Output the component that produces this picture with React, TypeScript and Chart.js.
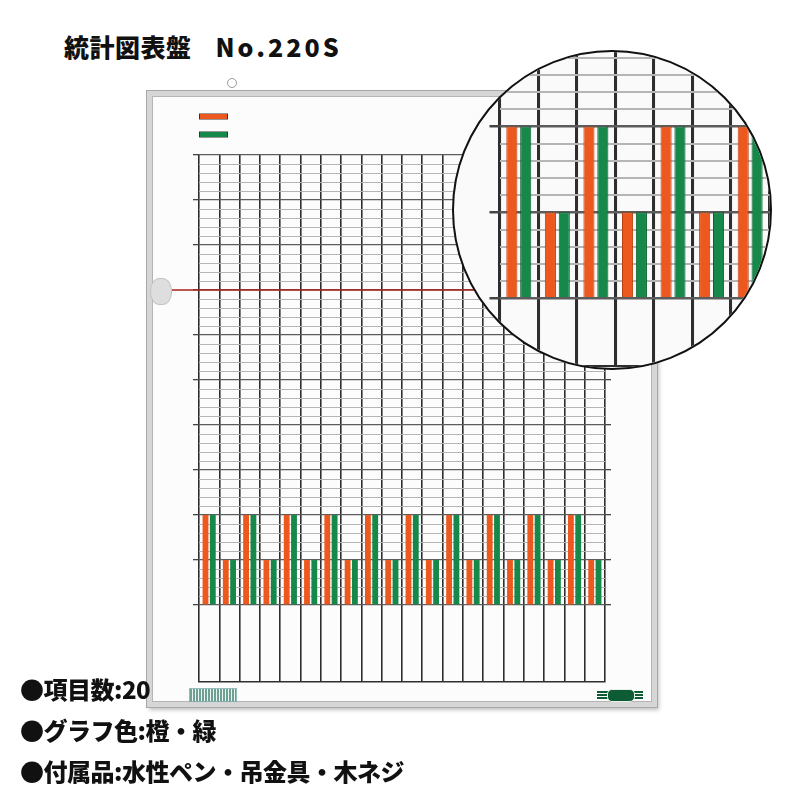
import { useEffect, useRef } from 'react';
import { Chart, registerables } from 'chart.js';

Chart.register(...registerables);

// 20 items on the board, each with an orange and a green bar
const items = ['1', '2', '3', '4', '5', '6', '7', '8', '9', '10',
  '11', '12', '13', '14', '15', '16', '17', '18', '19', '20'];
const orangeValues = [2, 1, 2, 1, 2, 1, 2, 1, 2, 1, 2, 1, 2, 1, 2, 1, 2, 1, 2, 1];
const greenValues = [2, 1, 2, 1, 2, 1, 2, 1, 2, 1, 2, 1, 2, 1, 2, 1, 2, 1, 2, 1];
const majorTicks = [0, 1, 2, 3, 4, 5, 6, 7, 8, 9, 10];
const minorStep = 0.2;
const targetValue = 7;

const ORANGE = '#ec581d';
const GREEN = '#16884a';

const isMajor = (v: number) => Math.abs(v - Math.round(v)) < 1e-6;

function buildTicks(min: number, max: number) {
  const out: { value: number }[] = [];
  const last = majorTicks[majorTicks.length - 1];
  for (let i = 0; i * minorStep <= last + 1e-6; i++) {
    const v = Math.round(i * minorStep * 10) / 10;
    if (v >= min - 1e-6 && v <= max + 1e-6) out.push({ value: v });
  }
  return out;
}

const targetLine = {
  id: 'targetLine',
  afterDatasetsDraw(chart: any) {
    const y = chart.scales.y;
    const v = chart.options.plugins.targetLine?.value;
    if (v == null || v > y.max || v < y.min) return;
    const py = y.getPixelForValue(v);
    const ctx = chart.ctx;
    ctx.save();
    ctx.strokeStyle = '#a8231a';
    ctx.lineWidth = 1.6;
    ctx.beginPath();
    ctx.moveTo(16, py);
    ctx.lineTo(chart.width - 2, py);
    ctx.stroke();
    ctx.restore();
  },
};

// swatches in the board's top-left corner, no text
const swatchLegend = {
  id: 'swatchLegend',
  afterDraw(chart: any) {
    const opts = chart.options.plugins.swatchLegend;
    if (!opts?.show) return;
    const ctx = chart.ctx;
    chart.data.datasets.forEach((ds: any, i: number) => {
      const y = 18 + i * 18;
      ctx.fillStyle = '#333';
      ctx.fillRect(47, y - 0.5, 29, 6);
      ctx.fillStyle = ds.backgroundColor;
      ctx.fillRect(48, y, 27, 5);
    });
  },
};

function makeConfig(zoom: boolean): any {
  const lw = zoom ? 1.9 : 1;
  const yMin = zoom ? -0.8 : -1.71;
  const yMax = zoom ? 2.866 : 10;
  const yGrid = {
    color: (c: any) => (isMajor(c.tick?.value ?? 0) ? '#5c5c5c' : '#b5b5b5'),
    lineWidth: (c: any) => (isMajor(c.tick?.value ?? 0) ? 1.3 * lw : 1 * lw),
    tickColor: (c: any) => (isMajor(c.tick?.value ?? 0) ? '#444' : 'rgba(0,0,0,0)'),
    tickLength: zoom ? 10 : 6,
  };
  return {
    type: 'bar',
    data: {
      labels: items,
      datasets: [
        { label: '橙', data: orangeValues, backgroundColor: ORANGE, borderColor: '#b8400f', borderWidth: zoom ? 1 : 0 },
        { label: '緑', data: greenValues, backgroundColor: GREEN, borderColor: '#0d5e31', borderWidth: zoom ? 1 : 0 },
      ],
    },
    options: {
      animation: false,
      responsive: false,
      events: [],
      layout: zoom
        ? { padding: { left: 35.5, right: 0, top: 0, bottom: 0 } }
        : { padding: { left: 41, right: 41, top: 59, bottom: 20 } },
      categoryPercentage: 0.72,
      barPercentage: 0.8,
      plugins: {
        legend: { display: false },
        tooltip: { enabled: false },
        targetLine: { value: zoom ? null : targetValue },
        swatchLegend: { show: !zoom },
      },
      scales: {
        x: {
          min: zoom ? 0 : undefined,
          max: zoom ? 7 : undefined,
          ticks: { display: false },
          grid: { offset: true, color: '#2e2e2e', lineWidth: 1.6 * lw, drawTicks: false },
          border: { display: true, color: '#2e2e2e', width: 1.6 * lw },
        },
        y: {
          min: yMin,
          max: yMax,
          afterBuildTicks: (axis: any) => { axis.ticks = buildTicks(yMin, yMax); },
          ticks: { display: false },
          grid: yGrid,
          border: { display: false },
        },
        ...(zoom ? {} : {
          y2: {
            position: 'right',
            min: yMin,
            max: yMax,
            afterBuildTicks: (axis: any) => { axis.ticks = buildTicks(yMin, yMax); },
            ticks: { display: false },
            grid: { ...yGrid, drawOnChartArea: false },
            border: { display: false },
          },
        }),
      },
    },
    plugins: [targetLine, swatchLegend],
  };
}

function BoardChart({ zoom, width, height }: { zoom: boolean; width: number; height: number }) {
  const canvasRef = useRef<HTMLCanvasElement>(null);
  const chartRef = useRef<Chart | null>(null);

  useEffect(() => {
    if (!canvasRef.current) return;
    if (chartRef.current) chartRef.current.destroy();
    chartRef.current = new Chart(canvasRef.current, makeConfig(zoom));
    return () => {
      if (chartRef.current) {
        chartRef.current.destroy();
        chartRef.current = null;
      }
    };
  }, [zoom]);

  return <canvas ref={canvasRef} width={width} height={height} style={{ width, height, display: 'block' }} />;
}

const jp = '"Noto Sans CJK JP", "Noto Sans", sans-serif';

export default function App() {
  return (
    <div style={{ position: 'fixed', left: 0, top: 0, width: 800, height: 800, background: '#fff', overflow: 'hidden', fontFamily: jp }}>
      <div style={{ position: 'absolute', left: 64, top: 30, fontSize: 25, fontWeight: 900, color: '#111', lineHeight: '32px', whiteSpace: 'pre' }}>
        <span style={{ letterSpacing: 0.5 }}>統計図表盤</span>
        <span style={{ display: 'inline-block', width: 24 }} />
        <span style={{ letterSpacing: 3 }}>No.220S</span>
      </div>

      {/* hook */}
      <div style={{ position: 'absolute', left: 227, top: 78, width: 8, height: 8, borderRadius: '50%', border: '1.5px solid #999' }} />

      {/* board frame */}
      <div style={{
        position: 'absolute', left: 147, top: 91, width: 510, height: 616, boxSizing: 'border-box',
        border: '5px solid #d6d6d6', background: '#fcfcfc',
        boxShadow: '0 0 0 1px #a8a8a8, inset 0 0 0 1px #b5b5b5, 2px 3px 4px rgba(0,0,0,0.25)',
      }}>
        <BoardChart zoom={false} width={500} height={606} />
      </div>

      {/* magnet holding the red line */}
      <div style={{ position: 'absolute', left: 150, top: 278, width: 20, height: 25, borderRadius: '45%', background: '#dedede', border: '1px solid #c2c2c2' }} />

      {/* sticker and maker badge */}
      <div style={{
        position: 'absolute', left: 189, top: 688, width: 46, height: 12, border: '1px solid #7aa', background: 'repeating-linear-gradient(90deg, #4a8a7a 0 2px, #e8f4f0 2px 3px)', opacity: 0.8,
      }} />
      <div style={{ position: 'absolute', left: 597, top: 691, width: 46, height: 8, background: 'linear-gradient(#0e5c36 0 2px, #fff 2px 3px, #0e5c36 3px 5px, #fff 5px 6px, #0e5c36 6px)' }} />
      <div style={{ position: 'absolute', left: 607, top: 689, width: 26, height: 11, borderRadius: 5, background: '#0e5c36', border: '1px solid #e8f0e8' }} />

      {/* magnifier */}
      <div style={{
        position: 'absolute', left: 452, top: 50, width: 320, height: 320, boxSizing: 'border-box', borderRadius: '50%',
        border: '2.5px solid #111', overflow: 'hidden', background: '#fafafa',
      }}>
        <BoardChart zoom={true} width={354} height={315} />
      </div>

      <div style={{ position: 'absolute', left: 20, top: 668, fontSize: 24, fontWeight: 900, lineHeight: '41px', color: '#111', letterSpacing: -0.5 }}>
        <div>●項目数:20</div>
        <div>●グラフ色:橙・緑</div>
        <div>●付属品:水性ペン・吊金具・木ネジ</div>
      </div>
    </div>
  );
}
